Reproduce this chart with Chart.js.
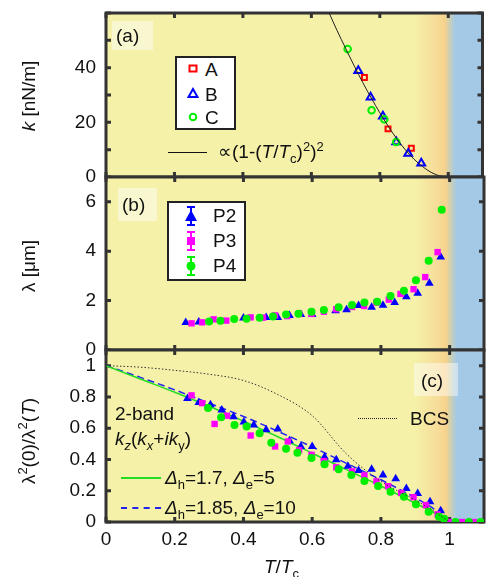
<!DOCTYPE html>
<html>
<head>
<meta charset="utf-8">
<script src="https://cdn.jsdelivr.net/npm/chart.js@4.4.1/dist/chart.umd.min.js"></script>
<style>
  body { margin: 0; background: #fff; font-family: "Liberation Sans", Arial, sans-serif; }
  #wrap { position: relative; width: 489px; height: 577px; overflow: hidden; }
  canvas { position: absolute; left: 0; top: 0; }
  .t { position: absolute; font-size: 19px; color: #111; white-space: nowrap; line-height: 1; }
  .rot { transform: translate(-50%, -50%) rotate(-90deg); }
  .tag { position: absolute; background: rgba(255,255,255,0.45); }
  .box { position: absolute; border: 2.5px solid #222; background: #fff; box-sizing: border-box; }
  sub, sup { font-size: 13px; line-height: 0; }
</style>
</head>
<body>
<div id="wrap">
  <canvas id="chartA" width="489" height="577"></canvas>
  <canvas id="chartB" width="489" height="577"></canvas>
  <canvas id="chartC" width="489" height="577"></canvas>

  <!-- panel tags -->
  <div class="tag" style="left:112px;top:21px;width:41px;height:29px"></div>
  <div class="t" style="left:116px;top:26px">(a)</div>
  <div class="tag" style="left:118px;top:188px;width:39px;height:33px"></div>
  <div class="t" style="left:122px;top:195px">(b)</div>
  <div class="tag" style="left:414px;top:363px;width:44px;height:33px"></div>
  <div class="t" style="left:421px;top:371px">(c)</div>

  <!-- y titles -->
  <div class="t rot" style="left:28px;top:96px"><i>k</i> [nN/m]</div>
  <div class="t rot" style="left:28px;top:266px">λ [μm]</div>
  <div class="t rot" style="left:28px;top:441px">λ<sup>2</sup>(0)/λ<sup>2</sup>(<i>T</i>)</div>
  <!-- x title -->
  <div class="t" style="left:264px;top:557px"><i>T</i>/<i>T</i><sub>c</sub></div>

  <!-- legend (a) -->
  <div class="box" style="left:175px;top:56px;width:61px;height:74px"></div>
  <svg style="position:absolute;left:185px;top:60px" width="16" height="66">
    <rect x="4.5" y="5.5" width="7" height="6" fill="none" stroke="#ff0000" stroke-width="2"/>
    <polygon points="8,29 3.5,37 12.5,37" fill="none" stroke="#0000ff" stroke-width="2"/>
    <circle cx="8" cy="57" r="3.3" fill="none" stroke="#00ee00" stroke-width="2"/>
  </svg>
  <div class="t" style="left:205px;top:60px">A</div>
  <div class="t" style="left:205px;top:85px">B</div>
  <div class="t" style="left:205px;top:108px">C</div>
  <div style="position:absolute;left:168px;top:152px;width:39px;height:1px;background:#111"></div>
  <div class="t" style="left:218px;top:142px">∝(1-(<i>T</i>/<i>T</i><sub>c</sub>)<sup>2</sup>)<sup>2</sup></div>

  <!-- legend (b) -->
  <div class="box" style="left:167px;top:201px;width:79px;height:80px"></div>
  <svg style="position:absolute;left:182px;top:204px" width="18" height="74">
    <g stroke="#0000ff" stroke-width="2"><line x1="9" y1="3" x2="9" y2="21"/><line x1="5" y1="3" x2="13" y2="3"/><line x1="5" y1="21" x2="13" y2="21"/></g>
    <polygon points="9,6 3,17 15,17" fill="#0000ff"/>
    <g stroke="#ff00ff" stroke-width="2"><line x1="9" y1="28" x2="9" y2="46"/><line x1="5" y1="28" x2="13" y2="28"/><line x1="5" y1="46" x2="13" y2="46"/></g>
    <rect x="5" y="33" width="8" height="8" fill="#ff00ff"/>
    <g stroke="#00ee00" stroke-width="2"><line x1="9" y1="53" x2="9" y2="71"/><line x1="5" y1="53" x2="13" y2="53"/><line x1="5" y1="71" x2="13" y2="71"/></g>
    <circle cx="9" cy="62" r="4.5" fill="#00ee00"/>
  </svg>
  <div class="t" style="left:213px;top:206px">P2</div>
  <div class="t" style="left:213px;top:231px">P3</div>
  <div class="t" style="left:213px;top:256px">P4</div>

  <!-- legend (c) -->
  <div class="t" style="left:115px;top:404px">2-band</div>
  <div class="t" style="left:115px;top:429px"><i>k<sub>z</sub></i>(<i>k<sub>x</sub></i>+<i>ik</i><sub>y</sub>)</div>
  <div style="position:absolute;left:121px;top:477px;width:40px;height:2px;background:#22dd22"></div>
  <div class="t" style="left:165px;top:468px"><i>Δ</i><sub>h</sub>=1.7, <i>Δ</i><sub>e</sub>=5</div>
  <div style="position:absolute;left:121px;top:507px;width:40px;height:0;border-top:2px dashed #2222ee"></div>
  <div class="t" style="left:165px;top:498px"><i>Δ</i><sub>h</sub>=1.85, <i>Δ</i><sub>e</sub>=10</div>
  <div style="position:absolute;left:358px;top:418px;width:39px;height:0;border-top:1.5px dotted #222"></div>
  <div class="t" style="left:410px;top:409px">BCS</div>
</div>

<script>
// ---- panel (a): spring constant k ----
const kA_T = [0.755, 0.824, 0.892];
const kA_val = [36.4, 17.6, 10.5];
const kB_T = [0.737, 0.773, 0.809, 0.848, 0.883, 0.921];
const kB_val = [38.9, 29.2, 22.2, 12.8, 8.6, 5.0];
const kC_T = [0.706, 0.776, 0.813, 0.848];
const kC_val = [46.8, 24.4, 21.1, 12.8];
const kFit_T = [0.652, 0.675, 0.70, 0.725, 0.75, 0.775, 0.80, 0.825, 0.85, 0.875, 0.90, 0.925, 0.95, 0.975, 1.0];
const kFit_val = [60, 53.6, 47.1, 40.7, 34.6, 28.9, 23.5, 18.5, 13.9, 9.9, 6.5, 3.8, 1.7, 0.4, 0];

// ---- panel (b): penetration depth lambda ----
const lamP2_T = [0.232, 0.27, 0.40, 0.466, 0.50, 0.534, 0.567, 0.60, 0.668, 0.70, 0.735, 0.773, 0.806, 0.84, 0.874, 0.907, 0.941, 0.974];
const lamP2 = [1.11, 1.13, 1.29, 1.32, 1.31, 1.40, 1.44, 1.44, 1.59, 1.63, 1.80, 1.73, 1.81, 1.92, 2.15, 2.30, 2.70, 3.76];
const lamP3_T = [0.249, 0.28, 0.313, 0.35, 0.421, 0.457, 0.492, 0.527, 0.562, 0.598, 0.634, 0.67, 0.716, 0.751, 0.787, 0.823, 0.857, 0.895, 0.929, 0.965];
const lamP3 = [1.08, 1.12, 1.24, 1.19, 1.32, 1.31, 1.40, 1.37, 1.46, 1.46, 1.55, 1.65, 1.74, 1.78, 1.92, 2.04, 2.27, 2.46, 2.95, 3.96];
const lamP4_T = [0.30, 0.333, 0.373, 0.409, 0.447, 0.486, 0.524, 0.56, 0.598, 0.634, 0.677, 0.716, 0.752, 0.789, 0.828, 0.867, 0.902, 0.939, 0.977];
const lamP4 = [1.15, 1.18, 1.25, 1.26, 1.30, 1.36, 1.44, 1.47, 1.55, 1.62, 1.73, 1.82, 1.92, 1.95, 2.19, 2.40, 2.82, 3.61, 5.67];

// ---- panel (c): superfluid density ----
const rhoP2_T = [0.237, 0.27, 0.304, 0.337, 0.371, 0.401, 0.43, 0.466, 0.50, 0.534, 0.567, 0.60, 0.636, 0.67, 0.704, 0.735, 0.773, 0.806, 0.843, 0.874, 0.907, 0.943, 0.974];
const rhoP2 = [0.79, 0.765, 0.75, 0.716, 0.673, 0.64, 0.62, 0.59, 0.595, 0.52, 0.483, 0.483, 0.415, 0.398, 0.356, 0.33, 0.337, 0.30, 0.277, 0.214, 0.182, 0.129, 0.072];
const rhoP3_T = [0.249, 0.28, 0.316, 0.352, 0.421, 0.492, 0.529, 0.562, 0.598, 0.634, 0.67, 0.716, 0.752, 0.787, 0.821, 0.859, 0.895, 0.931, 0.965, 0.998, 1.036, 1.07];
const rhoP3 = [0.81, 0.76, 0.627, 0.68, 0.553, 0.483, 0.515, 0.46, 0.43, 0.39, 0.35, 0.324, 0.298, 0.26, 0.229, 0.186, 0.159, 0.108, 0.049, 0.0, 0.0, 0.0];
const rhoP4_T = [0.297, 0.335, 0.374, 0.409, 0.447, 0.481, 0.524, 0.557, 0.598, 0.636, 0.677, 0.714, 0.752, 0.792, 0.828, 0.867, 0.902, 0.939, 0.969, 0.984, 1.017, 1.056, 1.09];
const rhoP4 = [0.729, 0.67, 0.62, 0.61, 0.567, 0.507, 0.468, 0.443, 0.409, 0.369, 0.337, 0.30, 0.263, 0.231, 0.193, 0.161, 0.114, 0.066, 0.034, 0.02, 0, 0, 0];
const model_T = [0, 0.1, 0.2, 0.3, 0.4, 0.5, 0.6, 0.7, 0.8, 0.9, 0.95, 1.0];
const modelGreen = [1.0, 0.915, 0.83, 0.74, 0.645, 0.545, 0.44, 0.335, 0.23, 0.12, 0.065, 0];
const modelBlue = [1.0, 0.925, 0.845, 0.76, 0.675, 0.58, 0.48, 0.375, 0.27, 0.155, 0.09, 0];
const bcs_T = [0, 0.1, 0.2, 0.3, 0.4, 0.5, 0.6, 0.7, 0.8, 0.9, 0.95, 1.0];
const bcsVal = [1.0, 0.99, 0.97, 0.945, 0.905, 0.815, 0.68, 0.435, 0.26, 0.14, 0.075, 0];

const xTicks = [0, 0.2, 0.4, 0.6, 0.8, 1];

function pts(xs, ys) {
    return xs.map((x, i) => ({ x: x, y: ys[i] }));
}

const FONT = { family: '"Liberation Sans", Arial, sans-serif', size: 19 };

// background, frame and inward tick marks
const framePlugin = {
    id: 'frame',
    beforeDraw(chart) {
        const { ctx, chartArea: a, scales } = chart;
        const xs = scales.x;
        const g = ctx.createLinearGradient(a.left, 0, a.right, 0);
        const f = v => Math.min(1, Math.max(0, (xs.getPixelForValue(v) - a.left) / (a.right - a.left)));
        g.addColorStop(0, '#f5f1a8');
        g.addColorStop(f(0.90), '#f5f1a8');
        g.addColorStop(f(0.965), '#f6dc98');
        g.addColorStop(f(0.99), '#f7d38c');
        g.addColorStop(f(1.005), '#c8cfb8');
        g.addColorStop(f(1.02), '#a4c9e6');
        g.addColorStop(1, '#a4c9e6');
        ctx.save();
        ctx.fillStyle = g;
        ctx.fillRect(a.left, a.top, a.right - a.left, a.bottom - a.top);
        ctx.restore();
    },
    beforeDatasetsDraw(chart) {
        const { ctx, chartArea: a, scales } = chart;
        ctx.save();
        ctx.strokeStyle = '#333';
        ctx.lineWidth = 3;
        ctx.beginPath();
        scales.y.ticks.forEach(t => {
            const y = scales.y.getPixelForValue(t.value);
            ctx.moveTo(a.left, y); ctx.lineTo(a.left + 5, y);
            ctx.moveTo(a.right, y); ctx.lineTo(a.right - 5, y);
        });
        xTicks.forEach(v => {
            const x = scales.x.getPixelForValue(v);
            ctx.moveTo(x, a.top); ctx.lineTo(x, a.top + 5);
            ctx.moveTo(x, a.bottom); ctx.lineTo(x, a.bottom - 5);
        });
        ctx.stroke();
        ctx.strokeRect(a.left, a.top, a.right - a.left, a.bottom - a.top);
        ctx.restore();
    }
};

function makeOptions(top, bottom, yMin, yMax, yStep, labelEvery, showX) {
    return {
        responsive: false,
        animation: false,
        devicePixelRatio: 1,
        layout: { padding: { left: 0, right: 0, top: top, bottom: showX ? 0 : 577 - bottom } },
        plugins: { legend: { display: false }, tooltip: { enabled: false } },
        scales: {
            x: {
                type: 'linear', min: 0, max: 1.1,
                grid: { display: false, drawTicks: false },
                border: { display: false },
                ticks: {
                    display: showX, stepSize: 0.2, includeBounds: false, padding: 6,
                    color: '#111', font: FONT, maxRotation: 0,
                    callback: v => String(Math.round(v * 10) / 10)
                },
                afterFit(s) { s.height = showX ? 577 - bottom : 0; }
            },
            y: {
                min: yMin, max: yMax,
                grid: { display: false, drawTicks: false },
                border: { display: false },
                ticks: {
                    stepSize: yStep, includeBounds: false, padding: 10,
                    color: '#111', font: FONT,
                    callback: v => {
                        if (v >= yMax - 1e-6) return '';
                        const r = v / labelEvery;
                        return Math.abs(r - Math.round(r)) < 1e-6 ? String(Math.round(v * 10) / 10) : '';
                    }
                },
                afterFit(s) {
                    s.width = 106;
                    // keep the plot frame exactly where the layout padding puts it
                    s.paddingTop = 0;
                    s.paddingBottom = 0;
                }
            }
        }
    };
}

new Chart(document.getElementById('chartA'), {
    type: 'scatter',
    data: {
        datasets: [
            { data: pts(kFit_T, kFit_val), showLine: true, borderColor: '#222', borderWidth: 1, pointRadius: 0, cubicInterpolationMode: 'monotone' },
            { data: pts(kC_T, kC_val), pointStyle: 'circle', pointRadius: 3.3, borderWidth: 2, borderColor: '#00ee00', backgroundColor: 'rgba(0,0,0,0)' },
            { data: pts(kB_T, kB_val), pointStyle: 'triangle', pointRadius: 4.5, borderWidth: 2, borderColor: '#0000ff', backgroundColor: 'rgba(0,0,0,0)' },
            { data: pts(kA_T, kA_val), pointStyle: 'rect', pointRadius: 3.5, borderWidth: 2, borderColor: '#ff0000', backgroundColor: 'rgba(0,0,0,0)' }
        ]
    },
    options: makeOptions(13, 177, 0, 60, 10, 20, false),
    plugins: [framePlugin]
});

new Chart(document.getElementById('chartB'), {
    type: 'scatter',
    data: {
        datasets: [
            { data: pts(lamP4_T, lamP4), pointStyle: 'circle', pointRadius: 4, borderWidth: 0, backgroundColor: '#00ee00' },
            { data: pts(lamP3_T, lamP3), pointStyle: 'rect', pointRadius: 4.5, borderWidth: 0, backgroundColor: '#ff00ff' },
            { data: pts(lamP2_T, lamP2), pointStyle: 'triangle', pointRadius: 5, borderWidth: 0, backgroundColor: '#0000ff' }
        ]
    },
    options: makeOptions(177, 350, 0, 7, 1, 2, false),
    plugins: [framePlugin]
});

new Chart(document.getElementById('chartC'), {
    type: 'scatter',
    data: {
        datasets: [
            { data: pts(bcs_T, bcsVal), showLine: true, borderColor: '#333', borderWidth: 1, borderDash: [1.5, 2], pointRadius: 0, cubicInterpolationMode: 'monotone' },
            { data: pts(rhoP4_T, rhoP4), pointStyle: 'circle', pointRadius: 4, borderWidth: 0, backgroundColor: '#00ee00' },
            { data: pts(rhoP3_T, rhoP3), pointStyle: 'rect', pointRadius: 4.5, borderWidth: 0, backgroundColor: '#ff00ff' },
            { data: pts(rhoP2_T, rhoP2), pointStyle: 'triangle', pointRadius: 5, borderWidth: 0, backgroundColor: '#0000ff' },
            { data: pts(model_T, modelGreen), showLine: true, borderColor: '#22dd22', borderWidth: 1.5, pointRadius: 0, cubicInterpolationMode: 'monotone' },
            { data: pts(model_T, modelBlue), showLine: true, borderColor: '#2222ee', borderWidth: 1.5, borderDash: [7, 4], pointRadius: 0, cubicInterpolationMode: 'monotone' }
        ]
    },
    options: makeOptions(350, 522, 0, 1.1, 0.2, 0.2, true),
    plugins: [framePlugin]
});
</script>
</body>
</html>
